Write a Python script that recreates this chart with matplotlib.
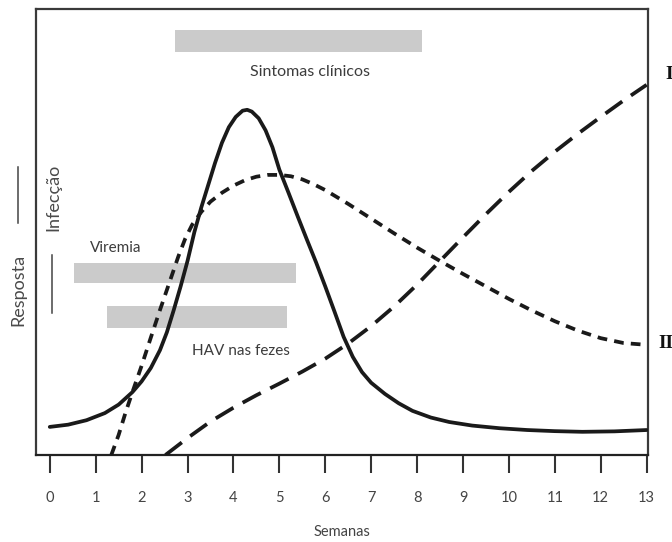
import numpy as np
import matplotlib.pyplot as plt
from matplotlib.lines import Line2D

plt.rcParams['font.family'] = ['Lato', 'DejaVu Sans']

# solid curve (infeccao)
solid_x = [0.0, 0.4, 0.8, 1.2, 1.5, 1.8, 2.0, 2.2, 2.4, 2.55, 2.7, 2.85, 3.0, 3.15, 3.3,
           3.45, 3.6, 3.75, 3.9, 4.05, 4.2, 4.3, 4.4, 4.55, 4.7, 4.85, 5.0, 5.2, 5.4, 5.6,
           5.8, 6.0, 6.2, 6.4, 6.6, 6.8, 7.0, 7.3, 7.6, 7.9, 8.3, 8.7, 9.2, 9.8, 10.4,
           11.0, 11.6, 12.3, 13.0]
solid_y = [6.3, 6.8, 7.8, 9.4, 11.3, 14.1, 16.5, 19.5, 23.5, 27.5, 32.5, 37.8, 43.5, 50.0, 55.5,
           60.5, 65.5, 70.0, 73.5, 75.8, 77.2, 77.4, 77.0, 75.5, 72.8, 69.0, 64.0, 58.8, 53.5, 48.3,
           43.2, 37.8, 32.2, 26.5, 22.0, 18.6, 16.2, 13.7, 11.6, 9.9, 8.4, 7.4, 6.6, 6.0, 5.6,
           5.35, 5.2, 5.3, 5.6]

# curve I (long dashes)
c1_x = [2.52, 3.0, 3.5, 4.0, 4.5, 5.0, 5.5, 6.0, 6.5, 7.0, 7.5, 8.0, 8.5, 9.0, 9.5,
        10.0, 10.5, 11.0, 11.5, 12.0, 12.5, 13.0]
c1_y = [0.0, 3.8, 7.5, 10.6, 13.4, 16.0, 18.7, 21.6, 25.0, 28.9, 33.3, 38.2, 43.5, 48.8, 54.0,
        59.0, 63.7, 68.0, 72.0, 75.8, 79.5, 83.0]

# curve II (short dashes)
c2_x = [1.34, 1.5, 1.65, 1.8, 2.0, 2.2, 2.4, 2.6, 2.8, 2.95, 3.1, 3.3, 3.5, 3.75, 4.0,
        4.25, 4.5, 4.75, 5.0, 5.25, 5.5, 5.75, 6.0, 6.5, 7.0, 7.5, 8.0, 8.5, 9.0, 9.5,
        10.0, 10.5, 11.0, 11.5, 12.0, 12.5, 13.0]
c2_y = [0.0, 4.5, 9.5, 14.1, 20.0, 26.3, 32.5, 38.5, 44.5, 48.5, 51.6, 54.5, 56.8, 58.8, 60.4,
        61.6, 62.4, 62.8, 62.8, 62.5, 61.8, 60.7, 59.4, 56.3, 53.0, 49.7, 46.5, 43.5, 40.6, 37.8,
        35.0, 32.4, 30.0, 27.9, 26.2, 25.1, 24.7]

# gray bars
bar_labels = ["Sintomas clínicos", "Viremia", "HAV nas fezes"]
bar_start = [2.72, 0.52, 1.24]
bar_end = [8.10, 5.36, 5.16]
bar_low = [90.4, 38.6, 28.4]
bar_high = [95.3, 43.1, 33.4]

weeks = list(range(0, 14))

fig = plt.figure(figsize=(6.72, 5.42), dpi=100)
ax = fig.add_axes([36/672, 87/542, 612/672, 446/542])

for s, e, lo, hi in zip(bar_start, bar_end, bar_low, bar_high):
    ax.barh((lo+hi)/2, e-s, height=hi-lo, left=s, color='#cbcbcb', zorder=1)

ax.plot(solid_x, solid_y, color='#1a1a1a', lw=2.7, solid_capstyle='round', solid_joinstyle='round', zorder=3)
ax.plot(c1_x, c1_y, color='#1a1a1a', lw=2.7, dashes=(5.5, 2.8), zorder=3)
ax.plot(c2_x, c2_y, color='#1a1a1a', lw=2.7, dashes=(2.6, 1.9), zorder=3)

ax.text(5.66, 85.9, bar_labels[0], ha='center', va='center', fontsize=11.5, color='#3c3c3c')
ax.text(1.44, 46.4, bar_labels[1], ha='center', va='center', fontsize=11, color='#3c3c3c')
ax.text(4.16, 23.3, bar_labels[2], ha='center', va='center', fontsize=11, color='#3c3c3c')

ax.text(13.4, 85.3, "I", ha='left', va='center', fontsize=14, fontweight='bold',
        family='Liberation Serif', color='#111111', clip_on=False)
ax.text(13.25, 25.1, "II", ha='left', va='center', fontsize=14, fontweight='bold',
        family='Liberation Serif', color='#111111', clip_on=False)

ax.set_xlim(-0.3, 13.03)
ax.set_ylim(0, 100)
ax.set_xticks(weeks)
ax.set_yticks([])
ax.tick_params(axis='x', direction='out', length=13, width=1.5, color='#333333',
               labelsize=10.5, labelcolor='#444444', pad=13)
ax.set_xlabel("Semanas", fontsize=10.5, color='#444444', labelpad=14)
for side in ['left', 'right', 'top', 'bottom']:
    ax.spines[side].set_linewidth(1.6)
    ax.spines[side].set_color('#3a3a3a')
ax.spines['bottom'].set_color('#222222')

# left side labels
fig.text(18/672, 1-290/542, "Resposta", rotation=90, ha='center', va='center',
         fontsize=13, color='#4a4a4a')
fig.text(53/672, 1-197/542, "Infecção", rotation=90, ha='center', va='center',
         fontsize=13, color='#4a4a4a')
fig.add_artist(Line2D([17.5/672, 17.5/672], [1-167/542, 1-223/542], color='#444444', lw=1.1))
fig.add_artist(Line2D([52/672, 52/672], [1-255/542, 1-313/542], color='#444444', lw=1.1))

fig.savefig("out.png", dpi=100)
